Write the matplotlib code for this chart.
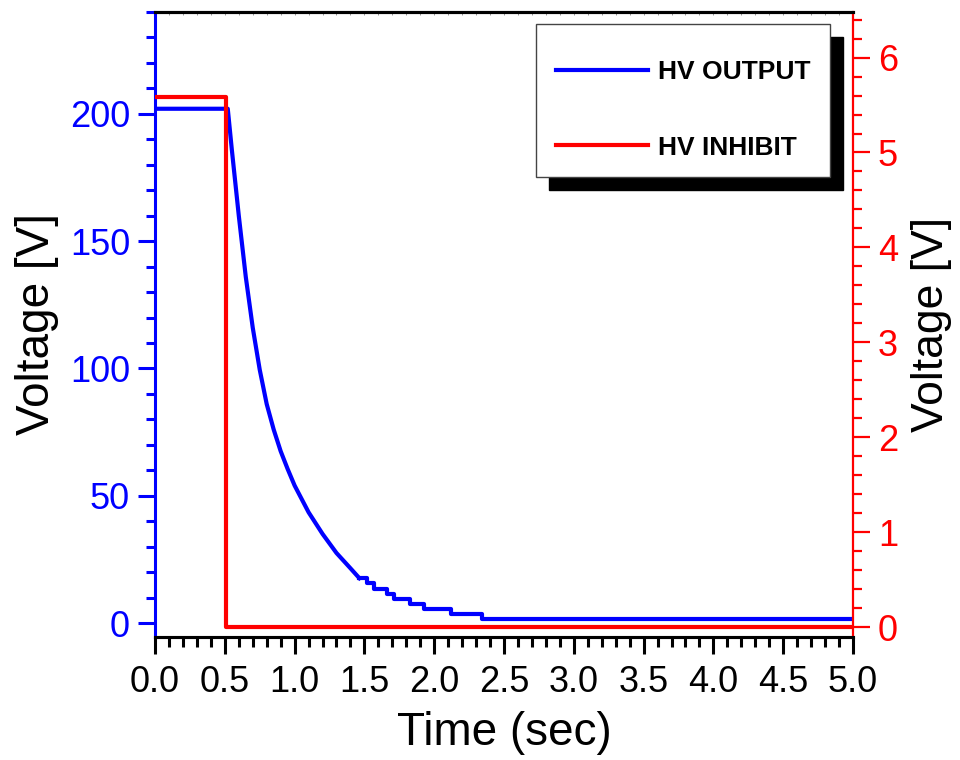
import matplotlib
matplotlib.use('Agg')
import matplotlib.pyplot as plt
from matplotlib.patches import Rectangle
from matplotlib.ticker import MultipleLocator, FormatStrFormatter

# HV OUTPUT: plateau + decay curve
out_t = [0.0, 0.521, 0.55, 0.60, 0.65, 0.70, 0.75, 0.80, 0.85, 0.90, 0.95, 1.0, 1.1, 1.2, 1.3, 1.4, 1.464]
out_v = [202, 202, 186, 160, 136, 116, 99.5, 86, 76, 67.5, 60.5, 54, 43.5, 35, 27.5, 21.5, 17.6]
# quantised tail of HV OUTPUT
tail_t = [1.464, 1.52, 1.57, 1.66, 1.71, 1.83, 1.93, 2.12, 2.34, 5.0]
tail_v = [17.6, 15.6, 13.4, 11.5, 9.4, 7.5, 5.5, 3.5, 1.6, 1.6]
# HV INHIBIT
inh_t = [0.0, 0.507, 0.507, 5.0]
inh_v = [5.58, 5.58, 0.0, 0.0]

plt.rcParams['font.family'] = ['Liberation Sans', 'DejaVu Sans']

fig = plt.figure(figsize=(9.6, 7.6), dpi=100)
ax = fig.add_axes([0.1615, 0.1618, 0.727, 0.8224])
ax2 = ax.twinx()

ln1, = ax.plot(out_t, out_v, color='#0000ff', lw=3.0, label='HV OUTPUT')
ax.step(tail_t, tail_v, where='post', color='#0000ff', lw=3.0)
ln2, = ax2.plot(inh_t, inh_v, color='#ff0000', lw=3.0, label='HV INHIBIT')

ax.set_xlim(0, 5.0)
ax.set_ylim(-5.5, 240)
ax2.set_ylim(-0.105, 6.48)

ax.xaxis.set_major_locator(MultipleLocator(0.5))
ax.xaxis.set_minor_locator(MultipleLocator(0.1))
ax.xaxis.set_major_formatter(FormatStrFormatter('%.1f'))
ax.yaxis.set_major_locator(MultipleLocator(50))
ax.yaxis.set_minor_locator(MultipleLocator(10))
ax2.yaxis.set_major_locator(MultipleLocator(1))
ax2.yaxis.set_minor_locator(MultipleLocator(0.2))

ax.tick_params(axis='x', which='major', length=12, width=2.2, labelsize=26, pad=8, colors='black')
ax.tick_params(axis='x', which='minor', length=7, width=2.2)
ax.tick_params(axis='y', which='major', length=12, width=2.2, labelsize=26, color='#0000ff',
               labelcolor='#0000ff', pad=6)
ax.tick_params(axis='y', which='minor', length=6.5, width=2.2, color='#0000ff')
ax2.tick_params(axis='y', which='major', length=12, width=1.6, labelsize=26, color='#ff0000',
                labelcolor='#ff0000', pad=6)
ax2.tick_params(axis='y', which='minor', length=6.5, width=1.6, color='#ff0000')

# tiny inward ticks along the top edge
top = ax.secondary_xaxis('top')
top.xaxis.set_major_locator(MultipleLocator(0.5))
top.xaxis.set_minor_locator(MultipleLocator(0.1))
top.tick_params(which='both', direction='in', length=2, width=0.7, color='#999999', labeltop=False)
top.spines['top'].set_linewidth(2.2)

for a in (ax, ax2):
    a.spines['top'].set_linewidth(2.2)
    a.spines['bottom'].set_linewidth(2.2)
ax.spines['left'].set_color('#0000ff')
ax.spines['left'].set_linewidth(2.2)
ax2.spines['left'].set_visible(False)
ax2.spines['right'].set_color('#ff0000')
ax2.spines['right'].set_linewidth(1.6)
ax.spines['right'].set_visible(False)

ax.set_xlabel('Time (sec)', fontsize=33, labelpad=8)
ax.set_ylabel('Voltage [V]', fontsize=33, labelpad=8)
ax2.set_ylabel('Voltage [V]', fontsize=32, labelpad=9)

# legend box with a hard black shadow
ax2.add_patch(Rectangle((0.546 + 0.0186, 0.736 - 0.0208), 0.421, 0.245, transform=ax2.transAxes,
                        facecolor='black', edgecolor='black', zorder=5, clip_on=False))
ax2.add_patch(Rectangle((0.546, 0.736), 0.421, 0.245, transform=ax2.transAxes,
                        facecolor='white', edgecolor='#444444', lw=1.0, zorder=6, clip_on=False))
leg = ax2.legend(handles=[ln1, ln2], loc='upper left', bbox_to_anchor=(0.5745, 0.923),
                 frameon=False, borderpad=0, borderaxespad=0, handlelength=3.5,
                 handletextpad=0.35, labelspacing=1.95,
                 prop={'family': 'Liberation Sans', 'weight': 'bold', 'size': 19})
leg.set_zorder(7)

fig.savefig('out.png', dpi=100)
